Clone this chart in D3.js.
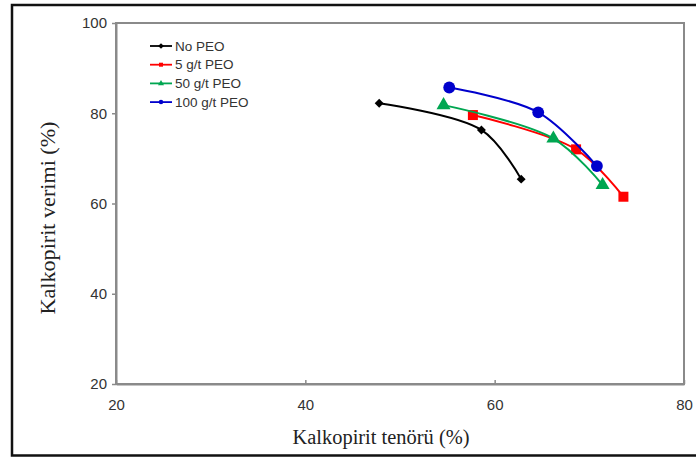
<!DOCTYPE html>
<html>
<head>
<meta charset="utf-8">
<script src="https://cdn.jsdelivr.net/npm/d3@7"></script>
<style>
  body { margin: 0; background: #fff; }
</style>
</head>
<body>
<div id="chart"></div>
<script>
// Data
const seriesNames = ["No PEO", "5 g/t PEO", "50 g/t PEO", "100 g/t PEO"];
const seriesColors = ["#000000", "#ff0000", "#00a651", "#0000cc"];
const noPeoGrade = [47.8, 58.6, 62.8];
const noPeoRec = [82.2, 76.3, 65.4];
const peo5Grade = [57.7, 68.6, 73.6];
const peo5Rec = [79.6, 72.0, 61.5];
const peo50Grade = [54.6, 66.2, 71.4];
const peo50Rec = [81.8, 74.4, 64.1];
const peo100Grade = [55.2, 64.6, 70.8];
const peo100Rec = [85.7, 80.2, 68.3];
const xTicks = [20, 40, 60, 80];
const yTicks = [20, 40, 60, 80, 100];

const grades = [noPeoGrade, peo5Grade, peo50Grade, peo100Grade];
const recs = [noPeoRec, peo5Rec, peo50Rec, peo100Rec];
// diamond is drawn as a square turned by 45 degrees
const seriesShapes = [d3.symbolSquare, d3.symbolSquare, d3.symbolTriangle, d3.symbolCircle];
const shapeRotate = [45, 0, 0, 0];

const W = 696, H = 459;
const margin = { top: 23, right: 12, bottom: 75, left: 116 };
const width = W - margin.left - margin.right;
const height = H - margin.top - margin.bottom;

const root = d3.select("#chart").append("svg")
  .attr("width", W)
  .attr("height", H);

// outer black frame (right side runs off the picture)
root.append("path")
  .attr("d", `M${W + 5},5 H12 V455.5 H${W + 5}`)
  .attr("fill", "none")
  .attr("stroke", "#111")
  .attr("stroke-width", 2.5);

const svg = root.append("g")
  .attr("transform", `translate(${margin.left},${margin.top})`);

const x = d3.scaleLinear().domain([20, 80]).range([0, width]);
const y = d3.scaleLinear().domain([20, 100]).range([height, 0]);

// plot frame
svg.append("rect")
  .attr("x", 0).attr("y", 0)
  .attr("width", width).attr("height", height)
  .attr("fill", "none")
  .attr("stroke", "#8a8a8a")
  .attr("stroke-width", 2);

// axes
const xAxis = svg.append("g")
  .attr("transform", `translate(0,${height})`)
  .call(d3.axisBottom(x).tickValues(xTicks).tickSize(4).tickSizeOuter(0));
const yAxis = svg.append("g")
  .call(d3.axisLeft(y).tickValues(yTicks).tickSize(4).tickSizeOuter(0));

[xAxis, yAxis].forEach(a => {
  a.select(".domain").attr("stroke", "#8a8a8a").attr("stroke-width", 2);
  a.selectAll(".tick line").attr("stroke", "#8a8a8a").attr("stroke-width", 1.5);
  a.selectAll("text")
    .attr("fill", "#333")
    .style("font-family", "Liberation Sans, Arial, sans-serif")
    .style("font-size", "15px");
});
xAxis.selectAll(".tick line").attr("y2", -4);
xAxis.selectAll("text").attr("dy", "1.25em");
yAxis.selectAll(".tick line").attr("x2", -4);
yAxis.selectAll("text").attr("x", -9);

// axis titles
root.append("text")
  .attr("x", 381)
  .attr("y", 444)
  .attr("text-anchor", "middle")
  .attr("textLength", 177)
  .attr("lengthAdjust", "spacingAndGlyphs")
  .style("font-family", "Liberation Serif, Times New Roman, serif")
  .style("font-size", "20px")
  .attr("fill", "#222")
  .text("Kalkopirit tenörü (%)");

root.append("text")
  .attr("transform", "translate(55,218) rotate(-90)")
  .attr("text-anchor", "middle")
  .attr("textLength", 193)
  .attr("lengthAdjust", "spacingAndGlyphs")
  .style("font-family", "Liberation Serif, Times New Roman, serif")
  .style("font-size", "20px")
  .attr("fill", "#222")
  .text("Kalkopirit verimi (%)");

// series lines and markers
const line = d3.line()
  .x(d => x(d[0]))
  .y(d => y(d[1]))
  .curve(d3.curveCatmullRom.alpha(0.5));

const markerSize = [40, 100, 85, 110];

seriesNames.forEach((name, i) => {
  const pts = grades[i].map((g, j) => [g, recs[i][j]]);
  svg.append("path")
    .datum(pts)
    .attr("fill", "none")
    .attr("stroke", seriesColors[i])
    .attr("stroke-width", 2)
    .attr("d", line);

  svg.selectAll(".m" + i)
    .data(pts)
    .enter()
    .append("path")
    .attr("transform", d => `translate(${x(d[0])},${y(d[1])}) rotate(${shapeRotate[i]})`)
    .attr("d", d3.symbol().type(seriesShapes[i]).size(markerSize[i]))
    .attr("fill", seriesColors[i]);
});

// legend
const legend = root.append("g")
  .attr("transform", "translate(150,46)");

seriesNames.forEach((name, i) => {
  const row = legend.append("g").attr("transform", `translate(0,${i * 18.7})`);
  row.append("line")
    .attr("x1", 0).attr("x2", 22)
    .attr("stroke", seriesColors[i])
    .attr("stroke-width", 1.8);
  row.append("path")
    .attr("transform", `translate(11,0) rotate(${shapeRotate[i]})`)
    .attr("d", d3.symbol().type(seriesShapes[i]).size(16))
    .attr("fill", seriesColors[i]);
  row.append("text")
    .attr("x", 25)
    .attr("y", 0)
    .attr("dy", "0.35em")
    .attr("fill", "#333")
    .style("font-family", "Liberation Sans, Arial, sans-serif")
    .style("font-size", "13.5px")
    .text(name);
});
</script>
</body>
</html>
